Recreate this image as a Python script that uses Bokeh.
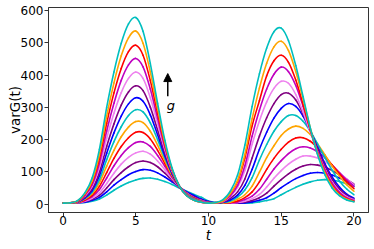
from bokeh.plotting import figure
from bokeh.models import Arrow, NormalHead, Label, FixedTicker, Range1d
from bokeh.embed import file_html
from bokeh.resources import INLINE

# time axis
t = [0.0, 0.5, 1.0, 1.5, 2.0, 2.5, 3.0, 3.5, 4.0, 4.5, 5.0, 5.5, 6.0, 6.5, 7.0,
     7.5, 8.0, 8.5, 9.0, 9.5, 10.0, 10.5, 11.0, 11.5, 12.0, 12.5, 13.0, 13.5,
     14.0, 14.5, 15.0, 15.5, 16.0, 16.5, 17.0, 17.5, 18.0, 18.5, 19.0, 19.5, 20.0]

# varG(t) for increasing g (lowest curve first)
var_g01 = [3, 3, 4, 5, 9, 16, 28, 43, 56, 67, 75, 80, 81, 77, 70, 61, 50, 40, 30, 21, 10,
           5, 3, 3, 3, 3, 4, 7, 11, 17, 29, 41, 52, 62, 69, 74, 76, 74, 70, 63, 55]
var_g02 = [3, 3, 4, 6, 12, 21, 38, 59, 76, 91, 101, 107, 105, 97, 84, 69, 53, 38, 27, 16, 8,
           4, 3, 3, 3, 4, 7, 12, 20, 34, 51, 66, 79, 89, 96, 98, 96, 90, 81, 71, 60]
var_g03 = [3, 3, 4, 8, 15, 27, 50, 76, 98, 116, 129, 134, 129, 116, 96, 74, 53, 35, 22, 13, 6,
           4, 3, 3, 4, 6, 11, 20, 34, 56, 76, 94, 108, 118, 123, 121, 115, 104, 91, 77, 62]
var_g04 = [3, 3, 4, 9, 18, 35, 64, 96, 124, 145, 159, 164, 155, 134, 107, 79, 53, 34, 20, 11, 5,
           3, 3, 3, 5, 9, 17, 30, 53, 80, 104, 124, 139, 149, 149, 143, 132, 116, 97, 78, 60]
var_g05 = [3, 3, 5, 11, 23, 45, 81, 119, 151, 175, 191, 193, 179, 151, 117, 83, 54, 33, 19, 10, 5,
           3, 3, 4, 7, 14, 25, 46, 77, 109, 135, 157, 172, 178, 174, 162, 144, 121, 98, 75, 55]
var_g06 = [3, 4, 5, 13, 27, 55, 98, 142, 179, 206, 223, 222, 202, 167, 126, 87, 55, 32, 18, 9, 5,
           3, 3, 5, 10, 20, 38, 69, 108, 142, 170, 192, 205, 206, 195, 175, 150, 121, 94, 69, 48]
var_g07 = [3, 4, 6, 16, 32, 66, 118, 167, 209, 239, 256, 253, 226, 183, 134, 89, 54, 31, 16, 8, 4,
           3, 4, 6, 15, 29, 56, 99, 144, 181, 213, 233, 242, 235, 216, 187, 153, 118, 87, 60, 40]
var_g08 = [3, 4, 6, 18, 37, 76, 138, 194, 240, 275, 293, 286, 252, 200, 143, 93, 55, 30, 16, 8, 4,
           4, 5, 10, 22, 44, 82, 137, 185, 226, 256, 275, 275, 257, 226, 186, 144, 105, 72, 47, 29]
var_g09 = [3, 4, 7, 19, 42, 88, 158, 221, 273, 311, 330, 319, 277, 215, 150, 94, 54, 28, 14, 7, 4,
           4, 6, 13, 28, 58, 108, 170, 223, 267, 297, 312, 303, 273, 227, 176, 126, 84, 53, 31, 18]
var_g10 = [3, 4, 7, 22, 47, 99, 179, 249, 307, 348, 367, 352, 301, 230, 158, 97, 54, 28, 14, 7, 4,
           4, 6, 18, 38, 78, 143, 211, 268, 312, 340, 344, 323, 281, 227, 170, 119, 77, 47, 27, 15]
var_g11 = [3, 4, 8, 25, 55, 114, 204, 282, 346, 390, 410, 390, 330, 250, 169, 102, 56, 28, 14, 7, 4,
           4, 8, 24, 52, 104, 186, 258, 317, 359, 381, 375, 340, 286, 223, 162, 109, 68, 40, 23, 13]
var_g12 = [3, 4, 9, 27, 60, 127, 227, 313, 384, 432, 452, 426, 357, 266, 176, 105, 56, 27, 13, 6, 4,
           4, 9, 26, 58, 119, 211, 291, 357, 403, 425, 411, 368, 304, 231, 163, 107, 65, 37, 20, 11]
var_g13 = [3, 4, 9, 30, 68, 141, 251, 345, 421, 473, 493, 462, 383, 282, 184, 107, 56, 27, 12, 6, 4,
           5, 11, 32, 70, 143, 243, 321, 398, 445, 462, 440, 385, 310, 230, 157, 99, 58, 32, 17, 9]
var_g14 = [3, 4, 10, 32, 72, 154, 273, 376, 460, 516, 537, 499, 410, 297, 190, 108, 55, 26, 12, 6, 3,
           4, 10, 33, 73, 154, 265, 360, 437, 488, 505, 476, 411, 326, 236, 157, 97, 55, 29, 15, 8]
var_g15 = [3, 4, 11, 35, 81, 170, 300, 410, 499, 559, 579, 536, 436, 313, 198, 111, 56, 26, 12, 6, 3,
           5, 14, 40, 90, 183, 303, 404, 484, 535, 546, 507, 430, 334, 236, 153, 91, 50, 26, 13, 7]

series = [var_g01, var_g02, var_g03, var_g04, var_g05, var_g06, var_g07, var_g08,
          var_g09, var_g10, var_g11, var_g12, var_g13, var_g14, var_g15]

# colour cycle (c, b, purple, violet, m, r, orange)
palette = ["#00bfbf", "#0000ff", "#800080", "#ee82ee", "#bf00bf", "#ff0000", "#ffa500"]

x_ticks = [0, 5, 10, 15, 20]
y_ticks = [0, 100, 200, 300, 400, 500, 600]

# annotation: arrow showing increasing g
arrow_t = 7.2
arrow_y_from = 335
arrow_y_to = 405
g_label_t = 7.42
g_label_y = 307

FONT = "DejaVu Sans"


def smooth_segments(xs, ys):
    """Cubic (Catmull-Rom) segments through the given points, as bezier columns."""
    n = len(xs)
    out = {k: [] for k in ("x0", "y0", "x1", "y1", "cx0", "cy0", "cx1", "cy1")}
    for i in range(n - 1):
        xa, ya, xb, yb = xs[i], ys[i], xs[i + 1], ys[i + 1]
        xp, yp = (xs[i - 1], ys[i - 1]) if i > 0 else (xa, ya)
        xn, yn = (xs[i + 2], ys[i + 2]) if i + 2 < n else (xb, yb)
        out["x0"].append(xa); out["y0"].append(ya)
        out["x1"].append(xb); out["y1"].append(yb)
        out["cx0"].append(xa + (xb - xp) / 6.0); out["cy0"].append(ya + (yb - yp) / 6.0)
        out["cx1"].append(xb - (xn - xa) / 6.0); out["cy1"].append(yb - (yn - ya) / 6.0)
    return out


p = figure(width=374, height=249,
           x_range=Range1d(-1, 21), y_range=Range1d(-26, 610),
           output_backend="svg", toolbar_location=None,
           min_border_left=48, min_border_right=6, min_border_top=7, min_border_bottom=37)

for i, ys in enumerate(series):
    seg = smooth_segments(t, ys)
    p.bezier(x0=seg["x0"], y0=seg["y0"], x1=seg["x1"], y1=seg["y1"],
             cx0=seg["cx0"], cy0=seg["cy0"], cx1=seg["cx1"], cy1=seg["cy1"],
             line_color=palette[i % len(palette)], line_width=1.6, line_cap="round")

p.add_layout(Arrow(end=NormalHead(size=8, fill_color="black", line_color="black", line_width=1),
                   x_start=arrow_t, y_start=arrow_y_from, x_end=arrow_t, y_end=arrow_y_to,
                   line_color="black", line_width=1.5))
p.add_layout(Label(x=g_label_t, y=g_label_y, text="g", text_font=FONT,
                   text_font_style="italic", text_font_size="13px",
                   text_align="center", text_baseline="alphabetic", text_color="black"))

p.grid.visible = False
p.outline_line_color = "#333333"
p.outline_line_width = 1
p.background_fill_color = "white"
p.border_fill_color = "white"

p.xaxis.ticker = FixedTicker(ticks=x_ticks)
p.yaxis.ticker = FixedTicker(ticks=y_ticks)
for ax in (p.xaxis, p.yaxis):
    ax.minor_tick_line_color = None
    ax.major_tick_in = 0
    ax.major_tick_out = 4
    ax.major_tick_line_color = "#333333"
    ax.axis_line_color = "#333333"
    ax.major_label_text_font = FONT
    ax.major_label_text_font_size = "12px"
    ax.major_label_text_line_height = 1.0
    ax.major_label_text_color = "black"
    ax.axis_label_text_font = FONT
    ax.axis_label_text_font_size = "13.5px"
    ax.axis_label_text_line_height = 1.0
    ax.axis_label_text_color = "black"

p.yaxis.major_label_standoff = 1
p.yaxis.axis_label = "varG(t)"
p.yaxis.axis_label_text_font_style = "normal"
p.yaxis.axis_label_standoff = -5
p.xaxis.major_label_standoff = -1
p.xaxis.axis_label = "t"
p.xaxis.axis_label_text_font_style = "italic"
p.xaxis.axis_label_standoff = -1

open("out.html", "w").write(file_html(p, INLINE))
